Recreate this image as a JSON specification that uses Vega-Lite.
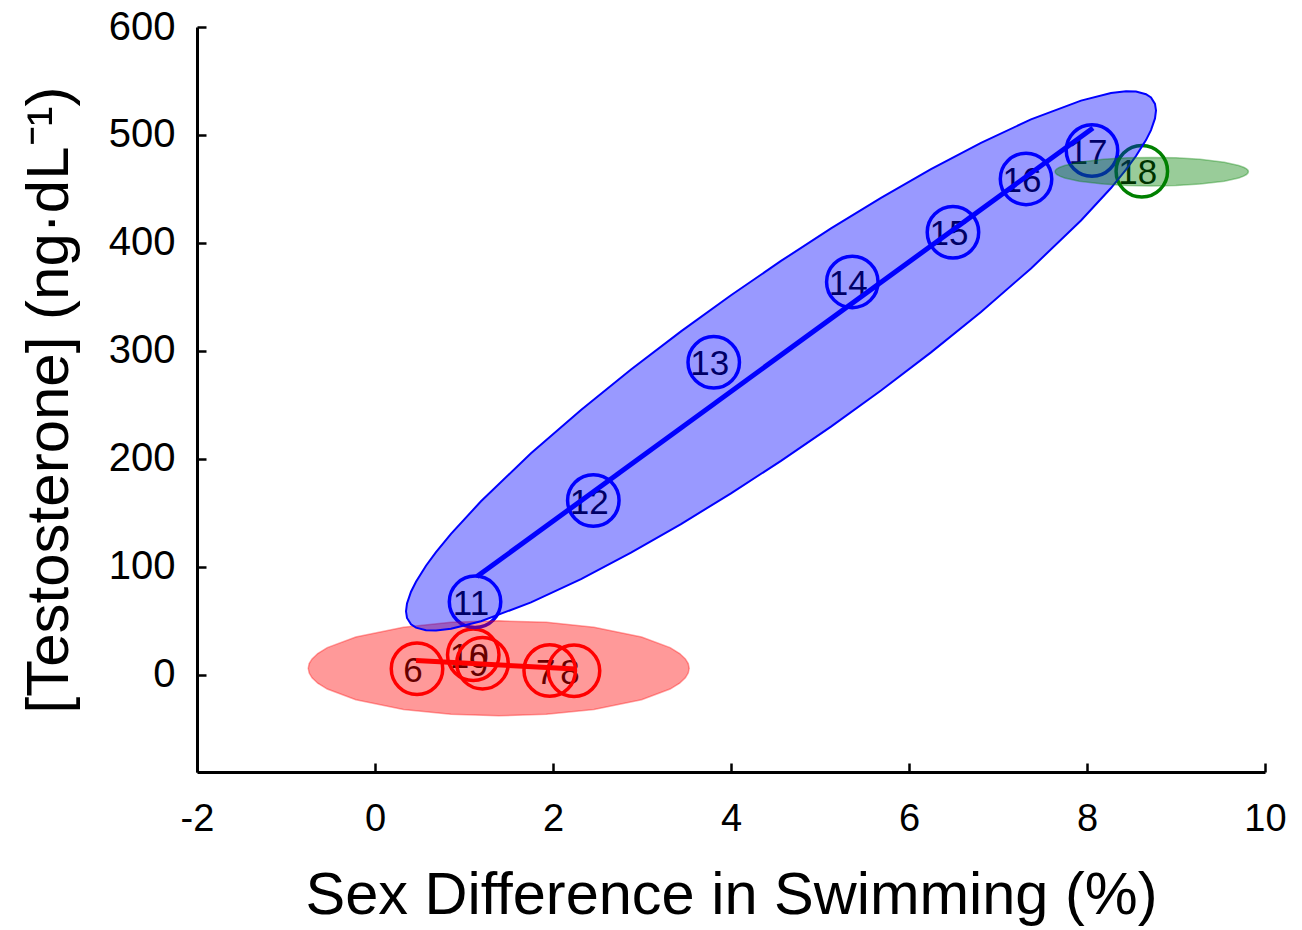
{
  "$schema": "https://vega.github.io/schema/vega-lite/v6.json",
  "width": 1068,
  "height": 745,
  "autosize": {"type": "none"},
  "padding": {"left": 197, "top": 27, "right": 37, "bottom": 158},
  "background": "white",
  "config": {
    "view": {"stroke": null},
    "font": "Liberation Sans",
    "axis": {
      "grid": false,
      "domainColor": "black",
      "domainWidth": 3,
      "tickColor": "black",
      "tickWidth": 2.5,
      "tickSize": -9,
      "labelColor": "black",
      "labelFlush": false,
      "labelOverlap": false,
      "titleFontWeight": "normal",
      "titleColor": "black"
    }
  },
  "datasets": {
    "points": [
      {"id": "6", "x": 0.472, "y": 5.6, "g": "red"},
      {"id": "10", "x": 1.104, "y": 18.5, "g": "red"},
      {"id": "9", "x": 1.208, "y": 10.8, "g": "red"},
      {"id": "7", "x": 1.963, "y": 4.0, "g": "red"},
      {"id": "8", "x": 2.236, "y": 3.7, "g": "red"},
      {"id": "11", "x": 1.124, "y": 67.6, "g": "blue"},
      {"id": "12", "x": 2.453, "y": 161.4, "g": "blue"},
      {"id": "13", "x": 3.806, "y": 289.4, "g": "blue"},
      {"id": "14", "x": 5.363, "y": 363.9, "g": "blue"},
      {"id": "15", "x": 6.494, "y": 409.9, "g": "blue"},
      {"id": "16", "x": 7.315, "y": 459.3, "g": "blue"},
      {"id": "17", "x": 8.056, "y": 485.6, "g": "blue"},
      {"id": "18", "x": 8.616, "y": 466.4, "g": "green"}
    ],
    "lines": [
      {"x": 0.461, "y": 13.2, "g": "red"},
      {"x": 2.258, "y": 5.3, "g": "red"},
      {"x": 1.145, "y": 91.0, "g": "blue"},
      {"x": 8.067, "y": 506.5, "g": "blue"}
    ],
    "blueEll": [
      {"x": 0.3483, "y": 58.80, "y2": 58.80},
      {"x": 0.3596, "y": 66.18, "y2": 52.66},
      {"x": 0.4045, "y": 76.96, "y2": 46.81},
      {"x": 0.4607, "y": 86.22, "y2": 43.74},
      {"x": 0.5730, "y": 101.00, "y2": 41.33},
      {"x": 0.6854, "y": 113.64, "y2": 41.06},
      {"x": 0.8539, "y": 130.61, "y2": 42.65},
      {"x": 1.1910, "y": 160.74, "y2": 49.63},
      {"x": 1.7528, "y": 205.13, "y2": 67.09},
      {"x": 2.3146, "y": 245.36, "y2": 88.71},
      {"x": 2.8764, "y": 282.82, "y2": 113.10},
      {"x": 3.4382, "y": 318.13, "y2": 139.65},
      {"x": 4.0000, "y": 351.58, "y2": 168.05},
      {"x": 4.5618, "y": 383.33, "y2": 198.15},
      {"x": 5.1236, "y": 413.44, "y2": 229.90},
      {"x": 5.6854, "y": 441.83, "y2": 263.35},
      {"x": 6.2472, "y": 468.38, "y2": 298.66},
      {"x": 6.8090, "y": 492.77, "y2": 336.12},
      {"x": 7.3708, "y": 514.39, "y2": 376.35},
      {"x": 7.9326, "y": 531.85, "y2": 420.74},
      {"x": 8.2697, "y": 538.83, "y2": 450.87},
      {"x": 8.4382, "y": 540.42, "y2": 467.84},
      {"x": 8.5506, "y": 540.15, "y2": 480.48},
      {"x": 8.6629, "y": 537.74, "y2": 495.26},
      {"x": 8.7191, "y": 534.67, "y2": 504.52},
      {"x": 8.7640, "y": 528.82, "y2": 515.31},
      {"x": 8.7753, "y": 522.69, "y2": 522.69}
    ],
    "redEll": [
      {"x": -0.75, "y": 6, "y2": 6},
      {"x": -0.7393, "y": 10.39, "y2": 1.61},
      {"x": -0.7072, "y": 14.76, "y2": -2.76},
      {"x": -0.643, "y": 19.74, "y2": -7.74},
      {"x": -0.536, "y": 25.18, "y2": -13.18},
      {"x": -0.215, "y": 35.10, "y2": -23.10},
      {"x": 0.32, "y": 44.10, "y2": -32.10},
      {"x": 0.855, "y": 48.60, "y2": -36.60},
      {"x": 1.39, "y": 50, "y2": -38},
      {"x": 1.925, "y": 48.60, "y2": -36.60},
      {"x": 2.46, "y": 44.10, "y2": -32.10},
      {"x": 2.995, "y": 35.10, "y2": -23.10},
      {"x": 3.316, "y": 25.18, "y2": -13.18},
      {"x": 3.423, "y": 19.74, "y2": -7.74},
      {"x": 3.4872, "y": 14.76, "y2": -2.76},
      {"x": 3.5193, "y": 10.39, "y2": 1.61},
      {"x": 3.53, "y": 6, "y2": 6}
    ],
    "greenEll": [
      {"x": 7.6405, "y": 466, "y2": 466},
      {"x": 7.6459, "y": 467.32, "y2": 464.68},
      {"x": 7.6622, "y": 468.63, "y2": 463.37},
      {"x": 7.6948, "y": 470.13, "y2": 461.87},
      {"x": 7.7492, "y": 471.77, "y2": 460.23},
      {"x": 7.9121, "y": 474.76, "y2": 457.24},
      {"x": 8.1838, "y": 477.47, "y2": 454.53},
      {"x": 8.4554, "y": 478.82, "y2": 453.18},
      {"x": 8.727, "y": 479.24, "y2": 452.76},
      {"x": 8.9986, "y": 478.82, "y2": 453.18},
      {"x": 9.2703, "y": 477.47, "y2": 454.53},
      {"x": 9.5419, "y": 474.76, "y2": 457.24},
      {"x": 9.7049, "y": 471.77, "y2": 460.23},
      {"x": 9.7592, "y": 470.13, "y2": 461.87},
      {"x": 9.7918, "y": 468.63, "y2": 463.37},
      {"x": 9.8081, "y": 467.32, "y2": 464.68},
      {"x": 9.8135, "y": 466, "y2": 466}
    ]
  },
  "encoding": {
    "x": {
      "field": "x",
      "type": "quantitative",
      "scale": {"domain": [-2, 10], "nice": false, "zero": false},
      "axis": {
        "title": "Sex Difference in Swimming (%)",
        "values": [-2, 0, 2, 4, 6, 8, 10],
        "labelExpr": "replace(datum.label, '−', '-')",
        "labelFontSize": 38,
        "labelPadding": 37,
        "titleFontSize": 59.5,
        "titlePadding": 28
      }
    },
    "y": {
      "field": "y",
      "type": "quantitative",
      "scale": {"domain": [-90, 600], "nice": false, "zero": false},
      "axis": {
        "title": "[Testosterone] (ng·dL⁻¹)",
        "values": [0, 100, 200, 300, 400, 500, 600],
        "labelFontSize": 40,
        "labelPadding": 31,
        "titleFontSize": 60,
        "titlePadding": 28
      }
    }
  },
  "layer": [
    {
      "data": {"name": "points"},
      "mark": {"type": "text", "fontSize": 35, "color": "black", "dx": -4, "dy": 2, "align": "center", "baseline": "middle"},
      "encoding": {"text": {"field": "id", "type": "nominal"}}
    },
    {
      "data": {"name": "points"},
      "mark": {"type": "point", "shape": "circle", "filled": false, "size": 2650, "strokeWidth": 3.5, "opacity": 1},
      "encoding": {
        "color": {"field": "g", "type": "nominal", "scale": {"domain": ["red", "blue", "green"], "range": ["#ff0000", "#0000ff", "#008000"]}, "legend": null}
      }
    },
    {
      "data": {"name": "lines"},
      "mark": {"type": "line", "strokeWidth": 5},
      "encoding": {
        "color": {"field": "g", "type": "nominal", "scale": {"domain": ["red", "blue", "green"], "range": ["#ff0000", "#0000ff", "#008000"]}, "legend": null},
        "detail": {"field": "g"}
      }
    },
    {
      "data": {"name": "redEll"},
      "mark": {"type": "area", "fill": "#ff0000", "fillOpacity": 0.4, "stroke": "#ff0000", "strokeOpacity": 0.35, "strokeWidth": 1.5},
      "encoding": {"y2": {"field": "y2"}}
    },
    {
      "data": {"name": "blueEll"},
      "mark": {"type": "area", "fill": "#0000ff", "fillOpacity": 0.4, "stroke": "#0000ff", "strokeWidth": 2},
      "encoding": {"y2": {"field": "y2"}}
    },
    {
      "data": {"name": "greenEll"},
      "mark": {"type": "area", "fill": "#008000", "fillOpacity": 0.4, "stroke": "#008000", "strokeOpacity": 0.35, "strokeWidth": 1.5},
      "encoding": {"y2": {"field": "y2"}}
    }
  ]
}
